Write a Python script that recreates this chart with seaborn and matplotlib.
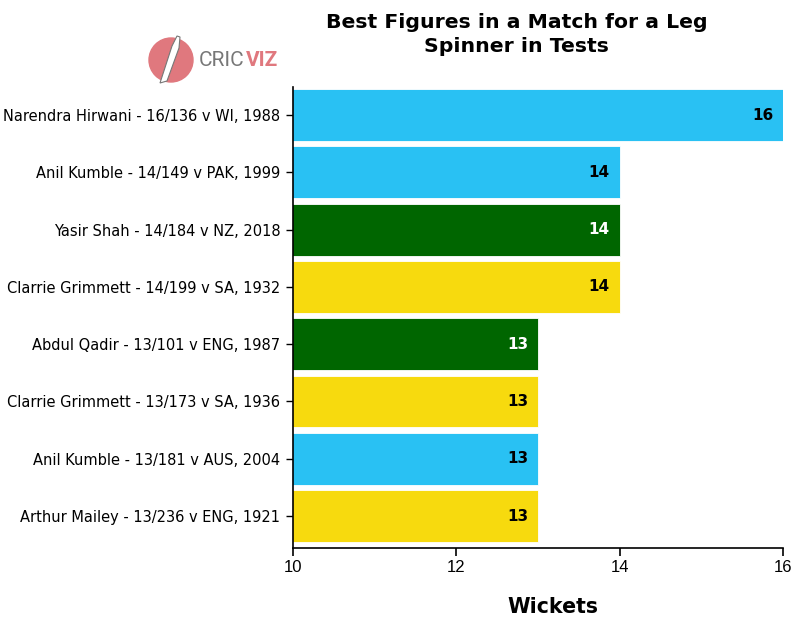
import matplotlib
matplotlib.use("Agg")
import matplotlib.pyplot as plt
import matplotlib.patches as mpatches
import seaborn as sns
import pandas as pd

players = [
    "Narendra Hirwani - 16/136 v WI, 1988",
    "Anil Kumble - 14/149 v PAK, 1999",
    "Yasir Shah - 14/184 v NZ, 2018",
    "Clarrie Grimmett - 14/199 v SA, 1932",
    "Abdul Qadir - 13/101 v ENG, 1987",
    "Clarrie Grimmett - 13/173 v SA, 1936",
    "Anil Kumble - 13/181 v AUS, 2004",
    "Arthur Mailey - 13/236 v ENG, 1921",
]
wickets = [16, 14, 14, 14, 13, 13, 13, 13]
teams = ["India", "India", "Pakistan", "Australia", "Pakistan", "Australia", "India", "Australia"]
team_colors = {"India": "#29C1F3", "Pakistan": "#006600", "Australia": "#F7DA0E"}
label_colors = {"India": "black", "Pakistan": "white", "Australia": "black"}

df = pd.DataFrame({"player": players, "wickets": wickets, "team": teams})

sns.set_theme(style="white")
plt.rcParams["font.family"] = ["DejaVu Sans"]
plt.rcParams["text.color"] = "black"
plt.rcParams["axes.labelcolor"] = "black"
plt.rcParams["xtick.color"] = "black"
plt.rcParams["ytick.color"] = "black"

fig = plt.figure(figsize=(8, 6.22), dpi=100)
ax = fig.add_axes([0.366, 1 - 548 / 622, 0.613, 461 / 622])

sns.barplot(data=df, y="player", x="wickets", hue="team", palette=team_colors,
            dodge=False, width=0.907, ax=ax, legend=False, orient="h",
            saturation=1, edgecolor="white", linewidth=0.6)

ax.set_xlim(10, 16)
ax.set_xticks([10, 12, 14, 16])
ax.set_ylim(7.557, -0.489)
ax.set_ylabel("")
ax.set_xlabel("")
for s in ["top", "right"]:
    ax.spines[s].set_visible(False)
for s in ["left", "bottom"]:
    ax.spines[s].set_color("black")
    ax.spines[s].set_linewidth(1.2)
ax.tick_params(axis="x", bottom=True, length=6, width=1.2, color="black", pad=3)
ax.tick_params(axis="y", left=True, length=5, width=1, color="black", labelsize=10.5, pad=4)
for lbl in ax.get_xticklabels():
    lbl.set_fontfamily("Liberation Sans")
    lbl.set_fontsize(12)

for i, (w, t) in enumerate(zip(wickets, teams)):
    ax.text(w - 0.12, i, str(w), ha="right", va="center", fontsize=11,
            fontweight="bold", color=label_colors[t])

fig.text(0.646, 0.9445, "Best Figures in a Match for a Leg\nSpinner in Tests",
         ha="center", va="center", fontsize=14.7, fontweight="bold", linespacing=1.35)
fig.text(0.691, 1 - 607 / 622, "Wickets", ha="center", va="center",
         fontsize=14.8, fontweight="bold")

# Logo (axes in pixel units)
lax = fig.add_axes([140 / 800, 1 - 90 / 622, 150 / 800, 60 / 622])
lax.set_xlim(0, 150)
lax.set_ylim(0, 60)
lax.axis("off")
lax.add_patch(mpatches.Circle((31, 30), 22, color="#E0787E", zorder=1))
bat = mpatches.Polygon([(20, 7), (27, 9), (39, 42), (40, 53), (37, 54), (32, 44)],
                       closed=True, facecolor="white", edgecolor="#777777",
                       linewidth=0.8, zorder=2)
lax.add_patch(bat)
lax.text(59, 30, "CRIC", fontsize=15, color="#777777", va="center", ha="left",
         fontfamily="Roboto")
lax.text(106, 30, "VIZ", fontsize=15, color="#E0787E", va="center", ha="left",
         fontfamily="Roboto", fontweight="bold")

fig.savefig("out.png", dpi=100, facecolor="white")
